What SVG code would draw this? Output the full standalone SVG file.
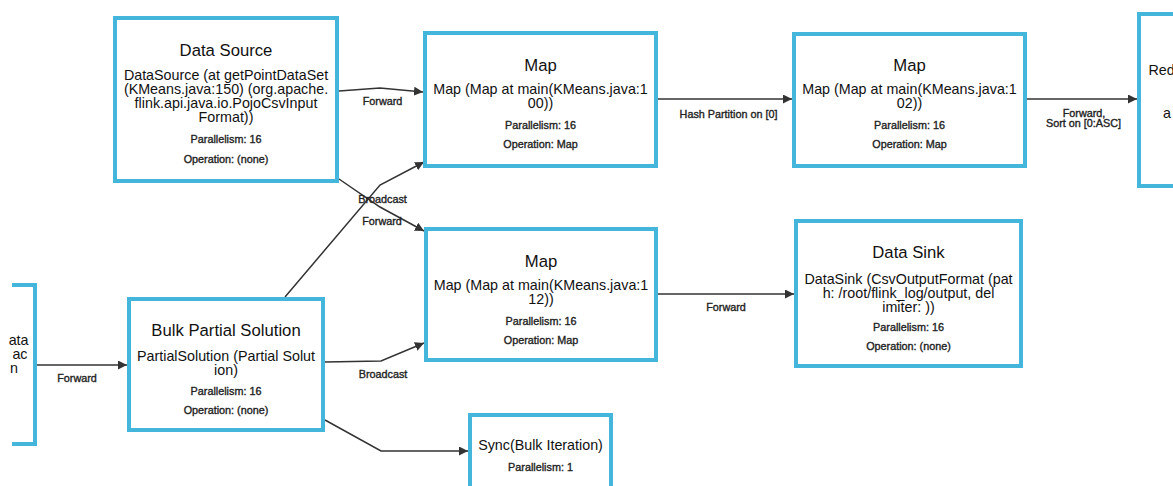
<svg xmlns="http://www.w3.org/2000/svg" width="1173" height="486" viewBox="0 0 1173 486">
  <defs>
    <style>
      .box { fill: #ffffff; stroke: #44b6dc; stroke-width: 4; }
      .t { font-family: "Liberation Sans", Arial, Helvetica, sans-serif; fill: #111111; text-anchor: middle; }
      .title { font-size: 16.7px; }
      .desc { font-size: 14.3px; }
      .meta { font-size: 10.8px; fill: #222222; stroke: #222222; stroke-width: 0.35px; }
      .edge { fill: none; stroke: #333333; stroke-width: 1.5; marker-end: url(#arrow); }
      .lbl { font-family: "Liberation Sans", Arial, Helvetica, sans-serif; font-size: 10.8px; fill: #222222; stroke: #222222; stroke-width: 0.35px; text-anchor: middle; }
    </style>
    <marker id="arrow" viewBox="0 0 10 10" refX="10" refY="5" markerWidth="9" markerHeight="9" markerUnits="userSpaceOnUse" orient="auto">
      <path d="M0,0 L10,5 L0,10 z" fill="#333333"/>
    </marker>
  </defs>

  <rect x="0" y="0" width="1173" height="486" fill="#ffffff"/>

  <!-- connectors -->
  <g id="edges">
    <path class="edge" d="M339,91 L380,88 L423,92"/>
    <text class="lbl" x="382.5" y="105">Forward</text>

    <path class="edge" d="M339,179 L380,207 L424,231"/>
    <text class="lbl" x="382" y="225">Forward</text>

    <path class="edge" d="M285,297 L380,185 L424,162"/>
    <text class="lbl" x="382.5" y="203">Broadcast</text>

    <path class="edge" d="M658,99 L792,99"/>
    <text class="lbl" x="728.5" y="117.5">Hash Partition on [0]</text>

    <path class="edge" d="M1027,99 L1137,99"/>
    <text class="lbl" x="1084" y="117">Forward,</text>
    <text class="lbl" x="1083.5" y="127">Sort on [0:ASC]</text>

    <path class="edge" d="M658,294 L794,294"/>
    <text class="lbl" x="726" y="311">Forward</text>

    <path class="edge" d="M37,365 L127,365"/>
    <text class="lbl" x="77" y="382">Forward</text>

    <path class="edge" d="M325,362 L381,361 L424,343"/>
    <text class="lbl" x="383" y="378">Broadcast</text>

    <path class="edge" d="M325,420 L381,451 L468,451"/>
  </g>

  <!-- iteration input (cut at the left edge) -->
  <g id="node-iteration-input">
    <path d="M12,285 H35 V444 H12" fill="none" stroke="#44b6dc" stroke-width="4"/>
    <text class="t desc" x="28.5" y="345" style="text-anchor:end">ata</text>
    <text class="t desc" x="27.5" y="359" style="text-anchor:end">ac</text>
    <text class="t desc" x="18" y="373" style="text-anchor:end">n</text>
  </g>

  <g id="node-data-source">
    <rect class="box" x="115" y="18" width="222" height="163"/>
    <text class="t title" x="226" y="55.5">Data Source</text>
    <text class="t desc" x="226" y="79.5">DataSource (at getPointDataSet</text>
    <text class="t desc" x="226" y="93.7">(KMeans.java:150) (org.apache.</text>
    <text class="t desc" x="226" y="107.9">flink.api.java.io.PojoCsvInput</text>
    <text class="t desc" x="226" y="122.1">Format))</text>
    <text class="t meta" x="226" y="143">Parallelism: 16</text>
    <text class="t meta" x="226" y="163">Operation: (none)</text>
  </g>

  <g id="node-map-100">
    <rect class="box" x="425" y="33" width="231" height="133"/>
    <text class="t title" x="540.5" y="71">Map</text>
    <text class="t desc" x="540.5" y="94">Map (Map at main(KMeans.java:1</text>
    <text class="t desc" x="540.5" y="108.2">00))</text>
    <text class="t meta" x="540.5" y="129">Parallelism: 16</text>
    <text class="t meta" x="540.5" y="148">Operation: Map</text>
  </g>

  <g id="node-map-102">
    <rect class="box" x="794" y="34" width="231" height="132"/>
    <text class="t title" x="909.5" y="71">Map</text>
    <text class="t desc" x="909.5" y="93.5">Map (Map at main(KMeans.java:1</text>
    <text class="t desc" x="909.5" y="107.7">02))</text>
    <text class="t meta" x="909.5" y="128.5">Parallelism: 16</text>
    <text class="t meta" x="909.5" y="148">Operation: Map</text>
  </g>

  <!-- reduce node (cut at the right edge) -->
  <g id="node-reduce">
    <rect class="box" x="1139" y="14" width="240" height="172"/>
    <text class="t desc" x="1148.5" y="75" style="text-anchor:start">Red</text>
    <text class="t desc" x="1163" y="118" style="text-anchor:start">a</text>
  </g>

  <g id="node-map-112">
    <rect class="box" x="426" y="229" width="230" height="131"/>
    <text class="t title" x="541" y="266.5">Map</text>
    <text class="t desc" x="541" y="290">Map (Map at main(KMeans.java:1</text>
    <text class="t desc" x="541" y="304.2">12))</text>
    <text class="t meta" x="541" y="324.5">Parallelism: 16</text>
    <text class="t meta" x="541" y="343.5">Operation: Map</text>
  </g>

  <g id="node-data-sink">
    <rect class="box" x="796" y="221" width="225" height="145"/>
    <text class="t title" x="908.5" y="258.3">Data Sink</text>
    <text class="t desc" x="908.5" y="284">DataSink (CsvOutputFormat (pat</text>
    <text class="t desc" x="908.5" y="298.2">h: /root/flink_log/output, del</text>
    <text class="t desc" x="908.5" y="312.4">imiter: ))</text>
    <text class="t meta" x="908.5" y="331">Parallelism: 16</text>
    <text class="t meta" x="908.5" y="350">Operation: (none)</text>
  </g>

  <g id="node-bulk-partial-solution">
    <rect class="box" x="129" y="299" width="194" height="131"/>
    <text class="t title" x="226" y="336">Bulk Partial Solution</text>
    <text class="t desc" x="226" y="360.5">PartialSolution (Partial Solut</text>
    <text class="t desc" x="226" y="374.5">ion)</text>
    <text class="t meta" x="226" y="395">Parallelism: 16</text>
    <text class="t meta" x="226" y="413.5">Operation: (none)</text>
  </g>

  <g id="node-sync">
    <rect class="box" x="470" y="415" width="141" height="100"/>
    <text class="t desc" x="540.5" y="450">Sync(Bulk Iteration)</text>
    <text class="t meta" x="540.5" y="471">Parallelism: 1</text>
  </g>
</svg>
